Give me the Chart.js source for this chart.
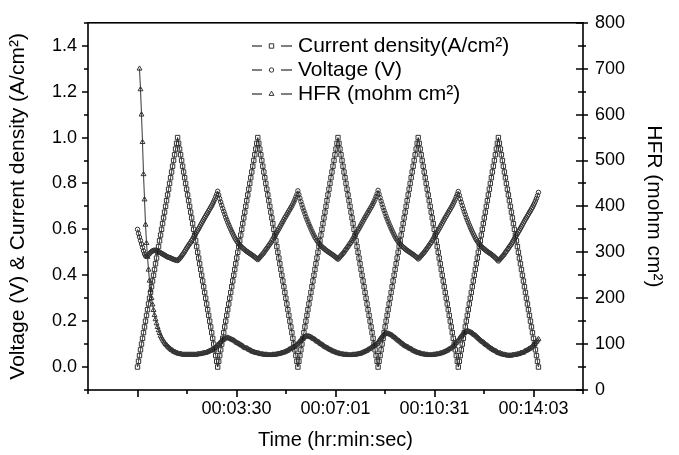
<!DOCTYPE html>
<html>
<head>
<meta charset="utf-8">
<script src="https://cdn.jsdelivr.net/npm/chart.js@4.4.0/dist/chart.umd.min.js"></script>
<style>
html,body{margin:0;padding:0;background:#fff;}
#wrap{width:679px;height:455px;}
</style>
</head>
<body>
<div id="wrap"><canvas id="c" width="679" height="455"></canvas></div>
<script>
// ---------------- data ----------------
// Current density (A/cm2), one value per sample
const currentDensity = [
0,
.025,.05,.075,.1,.125,.15,.175,.2,.225,.25,.275,.3,.325,.35,.375,.4,.425,.45,.475,.5,.525,.55,.575,.6,.625,.65,.675,.7,.725,.75,.775,.8,.825,.85,.875,.9,.925,.95,.975,1,
.975,.95,.925,.9,.875,.85,.825,.8,.775,.75,.725,.7,.675,.65,.625,.6,.575,.55,.525,.5,.475,.45,.425,.4,.375,.35,.325,.3,.275,.25,.225,.2,.175,.15,.125,.1,.075,.05,.025,0,
.025,.05,.075,.1,.125,.15,.175,.2,.225,.25,.275,.3,.325,.35,.375,.4,.425,.45,.475,.5,.525,.55,.575,.6,.625,.65,.675,.7,.725,.75,.775,.8,.825,.85,.875,.9,.925,.95,.975,1,
.975,.95,.925,.9,.875,.85,.825,.8,.775,.75,.725,.7,.675,.65,.625,.6,.575,.55,.525,.5,.475,.45,.425,.4,.375,.35,.325,.3,.275,.25,.225,.2,.175,.15,.125,.1,.075,.05,.025,0,
.025,.05,.075,.1,.125,.15,.175,.2,.225,.25,.275,.3,.325,.35,.375,.4,.425,.45,.475,.5,.525,.55,.575,.6,.625,.65,.675,.7,.725,.75,.775,.8,.825,.85,.875,.9,.925,.95,.975,1,
.975,.95,.925,.9,.875,.85,.825,.8,.775,.75,.725,.7,.675,.65,.625,.6,.575,.55,.525,.5,.475,.45,.425,.4,.375,.35,.325,.3,.275,.25,.225,.2,.175,.15,.125,.1,.075,.05,.025,0,
.025,.05,.075,.1,.125,.15,.175,.2,.225,.25,.275,.3,.325,.35,.375,.4,.425,.45,.475,.5,.525,.55,.575,.6,.625,.65,.675,.7,.725,.75,.775,.8,.825,.85,.875,.9,.925,.95,.975,1,
.975,.95,.925,.9,.875,.85,.825,.8,.775,.75,.725,.7,.675,.65,.625,.6,.575,.55,.525,.5,.475,.45,.425,.4,.375,.35,.325,.3,.275,.25,.225,.2,.175,.15,.125,.1,.075,.05,.025,0,
.025,.05,.075,.1,.125,.15,.175,.2,.225,.25,.275,.3,.325,.35,.375,.4,.425,.45,.475,.5,.525,.55,.575,.6,.625,.65,.675,.7,.725,.75,.775,.8,.825,.85,.875,.9,.925,.95,.975,1,
.975,.95,.925,.9,.875,.85,.825,.8,.775,.75,.725,.7,.675,.65,.625,.6,.575,.55,.525,.5,.475,.45,.425,.4,.375,.35,.325,.3,.275,.25,.225,.2,.175,.15,.125,.1,.075,.05,.025,0
];

// Voltage (V), one value per sample
const voltage = [
.600,.582,.566,.551,.536,.521,.506,.493,.484,.482,.485,.490,.494,.499,.503,.506,.508,.509,.509,.507,
.505,.503,.500,.498,.495,.493,.490,.488,.485,.482,.480,.478,.477,.475,.473,.471,.469,.468,.466,.465,.464,
.468,.473,.478,.484,.490,.496,.503,.510,.518,.524,.531,.537,.543,.551,.558,.566,.573,.581,.588,
.596,.603,.611,.619,.627,.635,.643,.651,.658,.666,.673,.681,.688,.696,.703,.712,.721,.731,.742,.753,
.766,.750,.734,.719,.705,.691,.678,.666,.653,.642,.631,.620,.610,.600,.590,.581,.572,.563,.556,.549,
.543,.537,.532,.527,.522,.518,.515,.511,.507,.504,.501,.498,.495,.492,.489,.486,.483,.479,.476,.472,.468,
.473,.478,.483,.488,.493,.498,.505,.511,.517,.523,.530,.536,.542,.550,.557,.565,.572,.580,.587,
.595,.602,.610,.618,.626,.634,.642,.650,.657,.665,.672,.680,.687,.695,.702,.711,.720,.730,.741,.752,
.768,.752,.736,.721,.707,.693,.680,.668,.655,.644,.633,.622,.612,.602,.592,.583,.574,.565,.558,.551,
.545,.539,.534,.529,.524,.520,.517,.513,.509,.506,.503,.500,.497,.494,.491,.488,.485,.481,.478,.474,.470,
.475,.480,.485,.490,.495,.500,.507,.513,.519,.525,.532,.538,.544,.552,.559,.567,.574,.582,.589,
.597,.604,.612,.620,.628,.636,.644,.652,.659,.667,.674,.682,.689,.697,.704,.713,.722,.732,.743,.755,
.770,.754,.738,.723,.709,.695,.682,.670,.657,.646,.635,.624,.614,.604,.594,.585,.576,.567,.560,.553,
.547,.541,.536,.531,.526,.522,.519,.515,.511,.508,.505,.502,.499,.496,.493,.490,.487,.483,.480,.476,.471,
.475,.480,.485,.490,.495,.500,.506,.512,.518,.524,.531,.537,.543,.551,.558,.566,.573,.581,.588,
.596,.603,.611,.619,.627,.635,.643,.651,.658,.666,.673,.681,.688,.696,.703,.712,.721,.731,.742,.753,
.765,.749,.733,.718,.704,.690,.677,.665,.652,.641,.630,.619,.609,.599,.589,.580,.571,.562,.555,.548,
.542,.536,.531,.526,.521,.517,.514,.510,.506,.503,.500,.497,.494,.491,.487,.484,.480,.476,.472,.467,.462,
.467,.472,.477,.482,.487,.492,.499,.505,.511,.517,.524,.530,.536,.544,.551,.559,.566,.574,.581,
.589,.596,.604,.612,.620,.628,.636,.644,.651,.659,.666,.674,.681,.689,.696,.705,.714,.724,.735,.747,
.761
];

// HFR (mohm cm2), one value per sample (no reading for the first two samples)
const hfr = [
null,null,700,655,600,540,470,415,360,320,290,262,238,218,200,186,174,163,154,145,
137,130,124,118,114,110,106,103,100,98,95,93,91,89,87,86,84,83,82,81,
80,79,79,78,78,77,77,77,77,77,77,77,77,77,77,77,77,77,77,77,
78,78,78,79,79,80,80,81,81,82,83,84,85,86,87,88,90,91,93,95,
98,100,103,105,108,109,110,112,113,113,114,113,112,111,110,109,108,107,105,103,
102,101,100,98,97,96,94,92,91,91,90,88,87,86,85,83,83,82,81,81,
80,80,79,78,78,78,77,77,77,77,76,76,76,76,76,77,77,77,77,78,
78,79,79,80,81,81,82,83,84,85,86,88,89,90,91,93,94,95,97,99,
101,104,106,109,111,113,115,116,117,117,117,117,116,115,114,112,111,110,108,106,
105,104,102,100,99,98,96,94,93,92,91,89,88,87,86,84,84,83,82,81,
80,80,79,78,78,78,77,77,77,77,76,76,76,76,76,77,77,77,77,78,
78,79,79,80,81,82,83,84,85,86,88,89,90,92,94,95,97,98,99,101,
104,108,111,114,116,119,121,122,123,123,123,122,121,120,119,117,115,114,112,110,
108,107,105,103,101,100,98,96,95,94,93,91,90,89,88,86,85,84,83,82,
81,81,80,79,78,78,78,77,77,77,76,76,76,76,76,77,77,77,78,78,
78,79,80,80,81,82,83,84,85,86,88,89,90,92,94,96,98,101,103,106,
108,112,115,118,120,123,125,126,127,128,128,127,126,125,124,122,120,119,117,115,
113,111,109,107,105,104,102,100,98,97,95,93,92,90,89,87,86,85,84,82,
81,80,80,78,78,77,77,76,76,75,75,75,75,75,76,76,76,77,77,78,
78,79,80,81,81,82,84,85,86,87,89,90,91,93,95,98,100,103,105,108,
111
];

// sampling interval of the recording (s); x axis is elapsed time in seconds
const sampleSeconds = 2.134;

// axis ticks
const xRange = [-105.375, 948.375];
const xMajorTicks = [0, 210.75, 421.5, 632.25, 843];
const xTickLabels = ['', '00:03:30', '00:07:01', '00:10:31', '00:14:03'];
const xMinorTicks = [-105.375, 105.375, 316.125, 526.875, 737.625, 948.375];

const yRange = [-0.1, 1.5];
const yMajorTicks = [0, 0.2, 0.4, 0.6, 0.8, 1.0, 1.2, 1.4];
const yTickLabels = ['0.0', '0.2', '0.4', '0.6', '0.8', '1.0', '1.2', '1.4'];
const yMinorTicks = [-0.1, 0.1, 0.3, 0.5, 0.7, 0.9, 1.1, 1.3, 1.5];

const y2Range = [0, 800];
const y2MajorTicks = [0, 100, 200, 300, 400, 500, 600, 700, 800];
const y2TickLabels = ['0', '100', '200', '300', '400', '500', '600', '700', '800'];
const y2MinorTicks = [50, 150, 250, 350, 450, 550, 650, 750];

const seriesLabels = ['Current density(A/cm\u00B2)', 'Voltage (V)', 'HFR (mohm cm\u00B2)'];
const axisTitles = {
  x: 'Time (hr:min:sec)',
  y: 'Voltage (V) & Current density (A/cm\u00B2)',
  y2: 'HFR (mohm cm\u00B2)'
};

// ---------------- chart ----------------
const FONT = '"Liberation Sans", Arial, Helvetica, sans-serif';
Chart.defaults.font.family = FONT;
Chart.defaults.color = '#000';

const time = currentDensity.map((_, i) => i * sampleSeconds);
const toPoints = arr => arr.map((v, i) => ({x: time[i], y: v}));

const axisMarks = {
  id: 'axisMarks',
  afterDraw(chart) {
    const {ctx, chartArea: a, scales: {x, y, y2}} = chart;
    ctx.save();
    ctx.strokeStyle = '#000';
    ctx.lineWidth = 1.6;
    ctx.beginPath();
    const seg = (x1, y1, x2, yy2) => { ctx.moveTo(x1, y1); ctx.lineTo(x2, yy2); };
    xMajorTicks.forEach(v => { const p = Math.round(x.getPixelForValue(v)); seg(p, a.bottom, p, a.bottom + 7); });
    xMinorTicks.forEach(v => { const p = Math.round(x.getPixelForValue(v)); seg(p, a.bottom, p, a.bottom + 4); });
    yMajorTicks.forEach(v => { const p = Math.round(y.getPixelForValue(v)); seg(a.left - 6, p, a.left, p); });
    yMinorTicks.forEach(v => { const p = Math.round(y.getPixelForValue(v)); seg(a.left - 4, p, a.left, p); });
    y2MajorTicks.forEach(v => { const p = Math.round(y2.getPixelForValue(v)); seg(a.right - 7, p, a.right + 5, p); });
    y2MinorTicks.forEach(v => { const p = Math.round(y2.getPixelForValue(v)); seg(a.right - 5, p, a.right + 3, p); });
    ctx.stroke();
    ctx.strokeRect(a.left, a.top, a.right - a.left, a.bottom - a.top);
    ctx.restore();
  }
};

const legendBox = {
  id: 'legendBox',
  afterDraw(chart) {
    const ctx = chart.ctx;
    const rows = [46, 70, 94];
    chart.data.datasets.forEach((ds, i) => {
      const yy = rows[i];
      ctx.save();
      ctx.strokeStyle = '#000';
      ctx.lineWidth = 1;
      ctx.beginPath();
      ctx.moveTo(252, yy); ctx.lineTo(262, yy);
      ctx.moveTo(281, yy); ctx.lineTo(292, yy);
      ctx.stroke();
      ctx.strokeStyle = ds.pointBorderColor;
      ctx.fillStyle = 'rgba(255,255,255,0)';
      ctx.lineWidth = ds.pointBorderWidth;
      Chart.helpers.drawPoint(ctx, {pointStyle: ds.pointStyle, radius: ds.pointRadius, rotation: 0, borderWidth: ds.pointBorderWidth}, 271.5, yy);
      ctx.fillStyle = '#000';
      ctx.font = '21px ' + FONT;
      ctx.textBaseline = 'middle';
      ctx.textAlign = 'left';
      ctx.fillText(ds.label, 298, yy);
      ctx.restore();
    });
  }
};

const commonDs = {
  borderColor: '#000',
  borderWidth: 0.8,
  pointBorderColor: '#333',
  pointBackgroundColor: 'rgba(255,255,255,0)',
  pointBorderWidth: 1,
  tension: 0,
  fill: false
};

new Chart(document.getElementById('c'), {
  type: 'line',
  data: {
    datasets: [
      Object.assign({}, commonDs, {label: seriesLabels[0], data: toPoints(currentDensity), yAxisID: 'y', pointStyle: 'rect', pointRadius: 3.1}),
      Object.assign({}, commonDs, {label: seriesLabels[1], data: toPoints(voltage), yAxisID: 'y', pointStyle: 'circle', pointRadius: 2.2}),
      Object.assign({}, commonDs, {label: seriesLabels[2], data: toPoints(hfr), yAxisID: 'y2', pointStyle: 'triangle', pointRadius: 2.8})
    ]
  },
  options: {
    responsive: false,
    animation: false,
    devicePixelRatio: 1,
    events: [],
    layout: {padding: {top: 18, left: 0, right: 0, bottom: 0}},
    plugins: {legend: {display: false}, tooltip: {enabled: false}},
    scales: {
      x: {
        type: 'linear', position: 'bottom', min: xRange[0], max: xRange[1],
        afterFit(s) { s.height = 65; },
        afterBuildTicks(s) { s.ticks = xMajorTicks.map(v => ({value: v})); },
        grid: {display: false, drawTicks: false},
        border: {display: false},
        ticks: {autoSkip: false, maxRotation: 0, minRotation: 0, padding: 8, font: {size: 18}, color: '#000',
                callback: (v, i) => xTickLabels[i]},
        title: {display: true, text: axisTitles.x, font: {size: 20}, color: '#000', padding: {top: 0, bottom: 3}}
      },
      y: {
        type: 'linear', position: 'left', min: yRange[0], max: yRange[1],
        afterFit(s) { s.width = 88; },
        afterBuildTicks(s) { s.ticks = yMajorTicks.map(v => ({value: v})); },
        grid: {display: false, drawTicks: false},
        border: {display: false},
        ticks: {autoSkip: false, padding: 11, font: {size: 18}, color: '#000',
                callback: (v, i) => yTickLabels[i]},
        title: {display: true, text: axisTitles.y, font: {size: 21}, color: '#000', padding: {top: 6, bottom: 0}}
      },
      y2: {
        type: 'linear', position: 'right', min: y2Range[0], max: y2Range[1],
        afterFit(s) { s.width = 96; },
        afterBuildTicks(s) { s.ticks = y2MajorTicks.map(v => ({value: v})); },
        grid: {display: false, drawTicks: false},
        border: {display: false},
        ticks: {autoSkip: false, padding: 12, font: {size: 18}, color: '#000',
                callback: (v, i) => y2TickLabels[i]},
        title: {display: true, text: axisTitles.y2, font: {size: 21}, color: '#000', padding: {top: 13, bottom: 0}}
      }
    }
  },
  plugins: [axisMarks, legendBox]
});
</script>
</body>
</html>
